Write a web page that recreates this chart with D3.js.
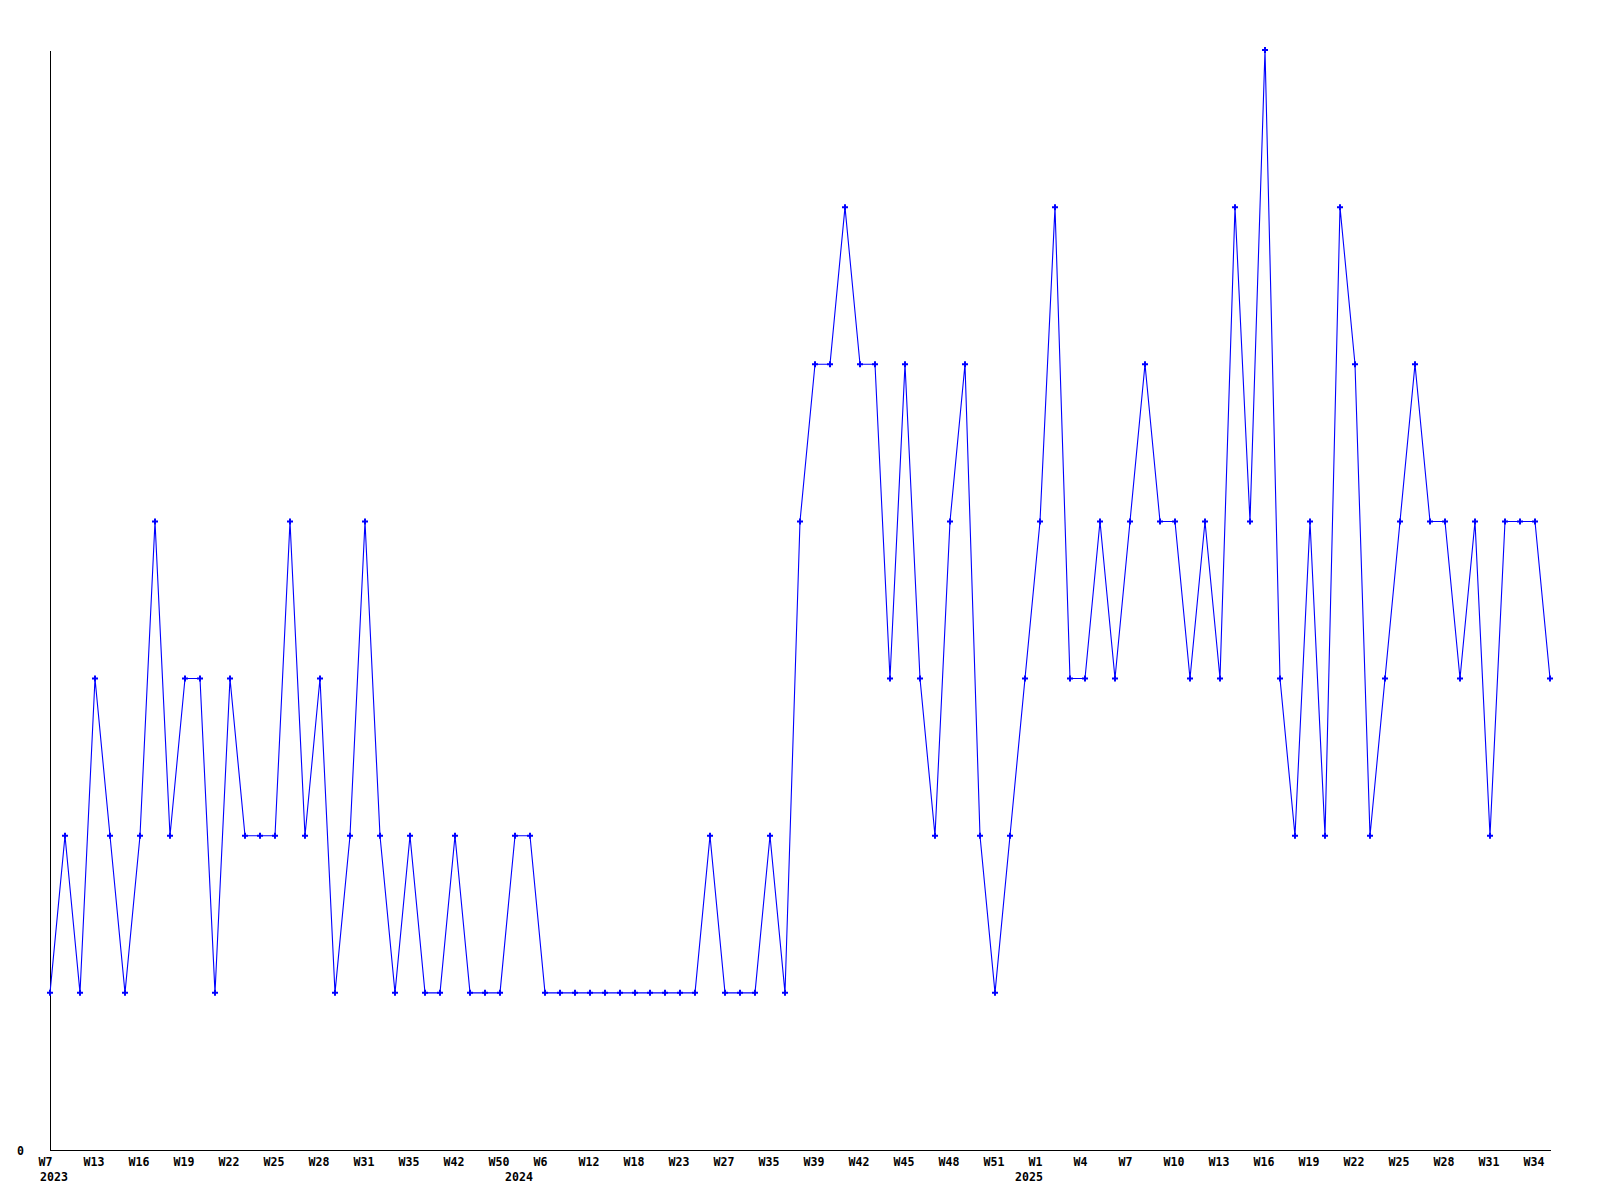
<!DOCTYPE html>
<html>
<head>
<meta charset="utf-8">
<script src="https://cdn.jsdelivr.net/npm/d3@7"></script>
<style>
  html, body { margin: 0; padding: 0; background: #ffffff; }
  svg { display: block; }
  text { font-family: "DejaVu Sans Mono", "Liberation Mono", monospace; font-weight: bold; font-size: 11.6px; fill: #000; }
</style>
</head>
<body>
<script>
// ---- data ----
const years = [
  2023,2023,2023,2023,2023,2023,2023,2023,2023,2023,2023,2023,2023,2023,2023,2023,2023,2023,2023,2023,
  2023,2023,2023,2023,2023,2023,2023,2023,2023,2023,2023,
  2024,2024,2024,2024,2024,2024,2024,2024,2024,2024,2024,2024,2024,2024,2024,2024,2024,2024,2024,2024,
  2024,2024,2024,2024,2024,2024,2024,2024,2024,2024,2024,2024,2024,2024,
  2025,2025,2025,2025,2025,2025,2025,2025,2025,2025,2025,2025,2025,2025,2025,2025,2025,2025,2025,2025,
  2025,2025,2025,2025,2025,2025,2025,2025,2025,2025,2025,2025,2025,2025,2025,2025
];
const weeks = [
  7,9,11,13,14,15,16,17,18,19,20,21,22,23,24,25,26,27,28,29,
  30,31,32,33,35,37,40,42,44,47,50,
  1,4,6,8,10,12,14,16,18,20,21,23,24,26,27,29,33,35,37,38,
  39,40,41,42,43,44,45,46,47,48,49,50,51,52,
  0,1,2,3,4,5,6,7,8,9,10,11,12,13,14,15,16,17,18,19,
  20,21,22,23,24,25,26,27,28,29,30,31,32,33,34,35
];
const counts = [
  1,2,1,3,2,1,2,4,2,3,3,1,3,2,2,2,4,2,3,1,
  2,4,2,1,2,1,1,2,1,1,1,
  2,2,1,1,1,1,1,1,1,1,1,1,1,2,1,1,1,2,1,4,
  5,5,6,5,5,3,5,3,2,4,5,2,1,2,
  3,4,6,3,3,4,3,4,5,4,4,3,4,3,6,4,7,3,2,4,
  2,6,5,2,3,4,5,4,4,3,4,2,4,4,4,3
];
const yTickValues = [0];
const yMax = 7;
const tickEvery = 3;

// ---- layout ----
const W = 1600, H = 1200;
const mLeft = 50, mRight = 1550, mTop = 50, mBottom = 1150;

const keys = weeks.map((w, i) => years[i] + "-W" + w);
const data = keys.map((k, i) => ({ key: k, year: years[i], week: weeks[i], value: counts[i] }));

const svg = d3.select("body").append("svg").attr("width", W).attr("height", H);

const x = d3.scalePoint().domain(keys).range([mLeft, mRight]);
const y = d3.scaleLinear().domain([0, yMax]).range([mBottom, mTop]);

// X axis
const xTicks = keys.filter((k, i) => i % tickEvery === 0);
const xAxis = d3.axisBottom(x)
  .tickValues(xTicks)
  .tickSize(0)
  .tickSizeOuter(0)
  .tickFormat(k => "W" + data[keys.indexOf(k)].week);
const gx = svg.append("g").attr("transform", `translate(0,${mBottom})`).call(xAxis);
gx.select(".domain").attr("stroke", "#000").attr("stroke-width", 1).attr("shape-rendering", "crispEdges");
gx.selectAll(".tick text")
  .attr("text-anchor", "start")
  .attr("dx", -12)
  .attr("dy", 0)
  .attr("y", 16)
  .attr("fill", "#000")
  .style("font-family", '"DejaVu Sans Mono", monospace')
  .style("font-size", "11.6px")
  .style("font-weight", "bold");

// year labels at first week of each year
const firstOfYear = data.filter((d, i) => i === 0 || d.year !== data[i - 1].year);
svg.append("g").selectAll("text").data(firstOfYear).join("text")
  .attr("x", d => x(d.key) - 10)
  .attr("y", mBottom + 31)
  .attr("text-anchor", "start")
  .text(d => d.year);

// Y axis
const yAxis = d3.axisLeft(y).tickValues(yTickValues).tickSize(0).tickSizeOuter(0).tickPadding(26).tickFormat(d3.format("d"));
const gy = svg.append("g").attr("transform", `translate(${mLeft},0)`).call(yAxis);
gy.select(".domain").attr("stroke", "#000").attr("stroke-width", 1).attr("shape-rendering", "crispEdges");
gy.selectAll(".tick text")
  .attr("fill", "#000")
  .attr("dy", "0.35em")
  .style("font-family", '"DejaVu Sans Mono", monospace')
  .style("font-size", "11.6px")
  .style("font-weight", "bold");

// line
const line = d3.line().x(d => x(d.key)).y(d => y(d.value));
svg.append("path")
  .datum(data)
  .attr("d", line)
  .attr("fill", "none")
  .attr("stroke", "#0000ff")
  .attr("stroke-width", 1.1);

// markers
svg.append("g").selectAll("path").data(data).join("path")
  .attr("transform", d => `translate(${x(d.key)},${y(d.value)})`)
  .attr("d", d3.symbol().type(d3.symbolCross).size(20))
  .attr("fill", "#0000ff");
</script>
</body>
</html>
